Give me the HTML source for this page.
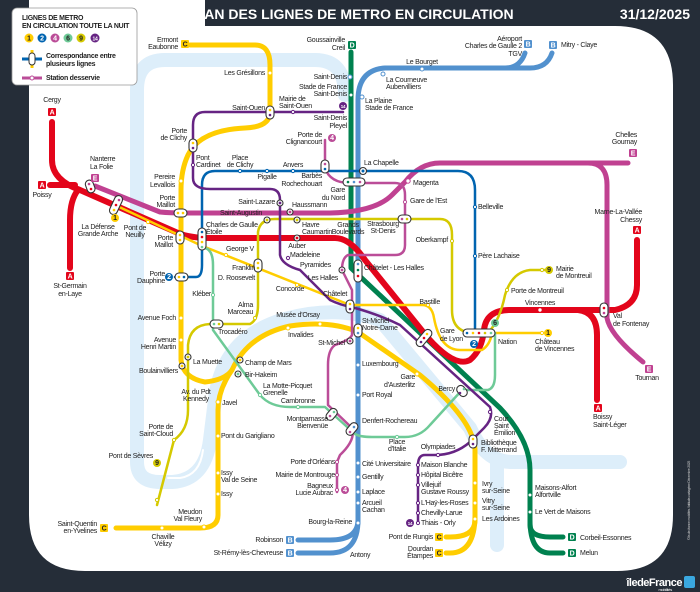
<!DOCTYPE html>
<html><head><meta charset="utf-8"><style>
html,body{margin:0;padding:0;background:#252d38;}
svg{display:block;font-family:"Liberation Sans",sans-serif;}
text{font-size:7px;fill:#222;letter-spacing:-0.25px;}
.e{text-anchor:end}.m{text-anchor:middle}
.th{fill:none;stroke-linecap:round;stroke-linejoin:round}
</style></head><body>
<svg width="700" height="592" viewBox="0 0 700 592" xmlns="http://www.w3.org/2000/svg">
<rect width="700" height="592" fill="#252d38"/>
<path d="M29,0 H205 V26 H615 Q673,26 673,85 V515 Q673,571 617,571 H85 Q29,571 29,515 Z" fill="#fff"/>
<text x="350" y="19" class="m" style="font-size:14px;font-weight:bold;fill:#fff;letter-spacing:0">PLAN DES LIGNES DE METRO EN CIRCULATION</text>
<text x="690" y="19" class="e" style="font-size:14px;font-weight:bold;fill:#fff;letter-spacing:0">31/12/2025</text>

<!-- Seine -->
<g class="th" stroke="#ddeefa" stroke-width="14">
<path d="M345,95 Q345,60 315,60 H165 Q137,60 137,90 V462 Q137,482 160,482 H172 Q205,480 210,440 L216,392 Q226,336 285,319 Q335,305 380,320 L470,428 Q485,462 512,462 H620"/>
<path d="M497,462 V545"/>
</g>
<path class="th" d="M168,478 H180 Q200,475 203,450" stroke="#fff" stroke-width="2"/>

<!-- Legend -->
<rect x="12" y="8" width="125" height="77" rx="5" fill="#fff" stroke="#999" stroke-width="0.8"/>
<text x="22" y="20" style="font-size:7px;font-weight:bold">LIGNES DE METRO</text>
<text x="22" y="28" style="font-size:7px;font-weight:bold">EN CIRCULATION TOUTE LA NUIT</text>
<g style="font-size:6px;font-weight:bold" class="m">
<circle cx="29" cy="38" r="4.5" fill="#ffcd00"/><text x="29" y="40.5">1</text>
<circle cx="42" cy="38" r="4.5" fill="#0064b0"/><text x="42" y="40.5" style="fill:#fff">2</text>
<circle cx="55" cy="38" r="4.5" fill="#bb4d98"/><text x="55" y="40.5" style="fill:#fff">4</text>
<circle cx="68" cy="38" r="4.5" fill="#6eca97"/><text x="68" y="40.5">6</text>
<circle cx="81" cy="38" r="4.5" fill="#d5c900"/><text x="81" y="40.5">9</text>
<circle cx="95" cy="38" r="4.5" fill="#662483"/><text x="95" y="40.5" style="fill:#fff;font-size:5px">14</text>
</g>
<path d="M22,59 H42" stroke="#0064b0" stroke-width="3"/><path d="M32,50 V68" stroke="#ffcd00" stroke-width="3"/>
<rect x="29" y="53" width="6" height="12" rx="3" fill="#fff" stroke="#333"/>
<text x="46" y="58" style="font-size:7px;font-weight:bold">Correspondance entre</text>
<text x="46" y="66" style="font-size:7px;font-weight:bold">plusieurs lignes</text>
<path d="M22,78 H42" stroke="#bb4d98" stroke-width="3"/><circle cx="32" cy="78" r="2" fill="#fff" stroke="#bb4d98"/>
<text x="46" y="80" style="font-size:7px;font-weight:bold">Station desservie</text>

<!-- RER B -->
<g class="th" stroke="#5291ce" stroke-width="5">
<path d="M525,53 Q520,68 505,68 H385 Q358,70 358,100 V520 Q358,540 330,540 H298"/>
<path d="M552,53 Q547,68 530,68 H500"/>
<path d="M358,520 Q358,553 330,553 H298"/>
</g>
<!-- RER D -->
<g class="th" stroke="#00814f" stroke-width="5">
<path d="M351,52 V268 L500,408 Q530,440 530,470 V525 Q530,537 550,537 H563"/>
<path d="M530,520 Q530,553 550,553 H563"/>
</g>
<!-- RER C -->
<g class="th" stroke="#ffcd00" stroke-width="5">
<path d="M190,45 H255 Q270,45 270,65 V112 Q270,127 245,128 Q200,130 188,155 Q181,170 181,190 V360 Q183,378 205,382 Q225,380 232,370 Q248,335 290,326 Q330,320 358,332 L420,375 Q474,420 475,450 V520 Q475,537 450,537 H446"/>
<path d="M475,515 Q475,553 450,553 H446"/>
<path d="M232,370 Q218,390 218,410 V515 Q218,528 200,528 H116"/>
</g>
<!-- RER A -->
<g class="th" stroke="#e3051b" stroke-width="6">
<path d="M52,122 V160 Q52,180 80,190 L178,233 Q190,238 210,238 H335 Q350,238 365,260 L428,338 Q455,368 470,360 Q482,350 484,330 Q486,310 510,310 H615 Q637,305 637,285 V240"/>
<path d="M50,185 H75"/>
<path d="M78,190 Q70,200 70,220 V268"/>
<path d="M578,310 Q597,312 597,335 V400"/>
</g>
<!-- RER E -->
<g class="th" stroke="#c04191" stroke-width="5">
<path d="M95,186 L160,212 Q170,213 185,213 H330 Q375,212 392,195 L405,182 Q420,163 440,163 H628"/>
<path d="M588,163 Q607,163 607,185 V318 Q610,335 643,362"/>
</g>

<!-- Metro 1 -->
<path class="th" stroke="#ffcd00" stroke-width="2.5" d="M115,205 L200,245 L350,305 H422 Q432,305 434,318 Q440,350 460,350 H482 Q490,345 492,333 H542"/>
<!-- Metro 2 -->
<path class="th" stroke="#0064b0" stroke-width="2.5" d="M175,277 H196 Q202,277 202,265 V185 Q202,171 215,171 H458 Q475,171 475,190 V330"/>
<!-- Metro 4 -->
<path class="th" stroke="#bb4d98" stroke-width="2.5" d="M325,140 V168 Q330,183 350,183 H395 Q405,183 405,195 V245 Q405,255 395,255 H348 Q342,258 342,270 L352,290 V335 Q350,340 335,345 Q328,350 328,365 V405 L352,428 Q356,440 340,455 L337,462 V492"/>
<!-- Metro 6 -->
<path class="th" stroke="#6eca97" stroke-width="2.5" d="M205,248 Q213,250 213,265 V330 L260,395 Q270,407 290,407 H325 L355,434 Q360,437 372,437 H405 Q420,437 430,425 L462,390 H488 Q495,388 495,375 V333"/>
<!-- Metro 9 -->
<path class="th" stroke="#d5c900" stroke-width="2.5" d="M157,505 L174,440 Q188,430 188,410 V345 Q190,325 210,324 H250 Q258,320 258,305 V232 Q260,219 275,219 H440 Q452,219 452,235 V310 Q452,333 475,333 H488 Q500,320 505,295 Q512,272 530,270 H545"/>
<!-- Metro 14 -->
<path class="th" stroke="#662483" stroke-width="2.5" d="M343,112 H205 Q193,112 193,125 V178 Q193,189 210,189 H270 Q280,189 280,200 V255 Q282,265 300,270 L330,300 Q340,305 355,308 Q380,315 400,325 L490,407 Q494,418 484,428 L470,442 Q455,455 435,455 H425 Q418,455 418,465 V523"/>

<!-- stations (small) -->
<g fill="#fff" stroke-width="1">
<g stroke="#ffcd00"><circle cx="270" cy="73" r="2"/><circle cx="181" cy="181" r="2"/><circle cx="181" cy="318" r="2"/><circle cx="181" cy="340" r="2"/><circle cx="288" cy="328" r="2"/><circle cx="320" cy="324" r="2"/><circle cx="417" cy="374" r="2"/><circle cx="475" cy="483" r="2"/><circle cx="475" cy="503" r="2"/><circle cx="475" cy="519" r="2"/><circle cx="218" cy="402" r="2"/><circle cx="218" cy="436" r="2"/><circle cx="218" cy="473" r="2"/><circle cx="218" cy="494" r="2"/><circle cx="204" cy="527" r="2"/><circle cx="162" cy="528" r="2"/>
<circle cx="148" cy="222" r="1.6"/><circle cx="226" cy="255" r="1.6"/><circle cx="297" cy="285" r="1.6"/><circle cx="428" cy="305" r="1.6"/><circle cx="542" cy="333" r="1.6"/></g>
<g stroke="#5291ce"><circle cx="350" cy="77" r="2"/><circle cx="422" cy="69" r="2"/><circle cx="383" cy="74" r="2"/><circle cx="362" cy="97" r="2"/><circle cx="358" cy="365" r="2"/><circle cx="358" cy="395" r="2"/><circle cx="358" cy="463" r="2"/><circle cx="358" cy="477" r="2"/><circle cx="358" cy="492" r="2"/><circle cx="358" cy="503" r="2"/><circle cx="358" cy="523" r="2"/></g>
<g stroke="#00814f"><circle cx="351" cy="95" r="2"/><circle cx="530" cy="495" r="2"/><circle cx="530" cy="512" r="2"/></g>
<g stroke="#e3051b"><circle cx="540" cy="310" r="2.2"/></g>
<g stroke="#c04191"><circle cx="408" cy="181" r="2.2"/></g>
<g stroke="#0064b0"><circle cx="240" cy="171" r="1.6"/><circle cx="267" cy="171" r="1.6"/><circle cx="293" cy="171" r="1.6"/><circle cx="475" cy="207" r="1.6"/><circle cx="475" cy="256" r="1.6"/></g>
<g stroke="#bb4d98"><circle cx="405" cy="202" r="1.6"/><circle cx="337" cy="462" r="1.6"/><circle cx="337" cy="475" r="1.6"/><circle cx="337" cy="490" r="1.6"/></g>
<g stroke="#6eca97"><circle cx="213" cy="295" r="1.6"/><circle cx="260" cy="395" r="1.6"/><circle cx="298" cy="407" r="1.6"/><circle cx="397" cy="437" r="1.6"/></g>
<g stroke="#d5c900"><circle cx="174" cy="440" r="1.6"/><circle cx="157" cy="500" r="1.6"/><circle cx="255" cy="318" r="1.6"/><circle cx="452" cy="241" r="1.6"/><circle cx="507" cy="290" r="1.6"/><circle cx="542" cy="270" r="1.6"/></g>
<g stroke="#662483"><circle cx="293" cy="112" r="1.6"/><circle cx="193" cy="165" r="1.6"/><circle cx="288" cy="258" r="1.6"/><circle cx="438" cy="455" r="1.6"/><circle cx="418" cy="465" r="1.6"/><circle cx="418" cy="475" r="1.6"/><circle cx="418" cy="485" r="1.6"/><circle cx="418" cy="503" r="1.6"/><circle cx="418" cy="513" r="1.6"/><circle cx="418" cy="523" r="1.6"/><circle cx="490" cy="412" r="1.6"/></g>
</g>

<!-- interchanges -->
<g fill="#fff" stroke="#333" stroke-width="1.1">
<rect x="266" y="106" width="8" height="13" rx="4"/>
<rect x="189" y="139" width="8" height="13" rx="4"/>
<rect x="321" y="160" width="8" height="13" rx="4"/>
<rect x="343" y="178" width="22" height="8" rx="4"/>
<circle cx="363" cy="171" r="3.5"/>
<rect x="398" y="215" width="13" height="8" rx="4"/>
<rect x="174" y="209" width="13" height="8" rx="4"/>
<rect x="176" y="231" width="8" height="13" rx="4"/>
<rect x="198" y="228" width="8" height="22" rx="4"/>
<rect x="254" y="259" width="8" height="13" rx="4"/>
<rect x="175" y="273" width="13" height="8" rx="4"/>
<rect x="354" y="260" width="8" height="22" rx="4"/>
<rect x="346" y="300" width="8" height="13" rx="4"/>
<rect x="354" y="324" width="8" height="13" rx="4"/>
<rect x="210" y="320" width="13" height="8" rx="4"/>
<rect x="420" y="328" width="8" height="20" rx="4" transform="rotate(40 424 338)"/>
<rect x="463" y="329" width="32" height="8" rx="4"/>
<rect x="600" y="303" width="8" height="14" rx="4"/>
<rect x="458" y="385" width="8" height="12" rx="4" transform="rotate(-40 462 391)"/>
<rect x="469" y="435" width="8" height="13" rx="4"/>
<rect x="328" y="408" width="8" height="13" rx="4" transform="rotate(40 332 414)"/>
<rect x="348" y="422" width="8" height="14" rx="4" transform="rotate(40 352 429)"/>
<rect x="86" y="180" width="8" height="13" rx="4" transform="rotate(-20 90 186)"/>
<rect x="112" y="195" width="8" height="20" rx="4" transform="rotate(25 116 205)"/>
<circle cx="280" cy="203" r="3"/><circle cx="290" cy="212" r="3"/><circle cx="267" cy="220" r="3"/><circle cx="297" cy="220" r="3"/><circle cx="297" cy="238" r="3"/><circle cx="342" cy="270" r="3"/><circle cx="350" cy="341" r="3"/><circle cx="188" cy="357" r="3"/><circle cx="182" cy="366" r="3"/><circle cx="240" cy="360" r="3"/><circle cx="238" cy="374" r="3"/>
</g>
<g stroke="none">
<circle cx="270" cy="110" r="1.3" fill="#ffcd00"/><circle cx="270" cy="115" r="1.3" fill="#662483"/>
<circle cx="193" cy="143" r="1.3" fill="#ffcd00"/><circle cx="193" cy="148" r="1.3" fill="#662483"/>
<circle cx="325" cy="164" r="1.3" fill="#bb4d98"/><circle cx="325" cy="169" r="1.3" fill="#0064b0"/>
<circle cx="348" cy="182" r="1.3" fill="#00814f"/><circle cx="354" cy="182" r="1.3" fill="#5291ce"/><circle cx="360" cy="182" r="1.3" fill="#bb4d98"/>
<circle cx="363" cy="171" r="1.5" fill="#0064b0"/>
<circle cx="402" cy="219" r="1.3" fill="#bb4d98"/><circle cx="407" cy="219" r="1.3" fill="#d5c900"/>
<circle cx="178" cy="213" r="1.3" fill="#ffcd00"/><circle cx="183" cy="213" r="1.3" fill="#ffcd00"/>
<circle cx="180" cy="235" r="1.3" fill="#ffcd00"/><circle cx="180" cy="240" r="1.3" fill="#ffcd00"/>
<circle cx="202" cy="232" r="1.3" fill="#0064b0"/><circle cx="202" cy="237" r="1.3" fill="#e3051b"/><circle cx="202" cy="242" r="1.3" fill="#ffcd00"/><circle cx="202" cy="247" r="1.3" fill="#6eca97"/>
<circle cx="258" cy="263" r="1.3" fill="#ffcd00"/><circle cx="258" cy="268" r="1.3" fill="#d5c900"/>
<circle cx="179" cy="277" r="1.3" fill="#ffcd00"/><circle cx="184" cy="277" r="1.3" fill="#0064b0"/>
<circle cx="358" cy="264" r="1.3" fill="#5291ce"/><circle cx="358" cy="270" r="1.3" fill="#00814f"/><circle cx="358" cy="276" r="1.3" fill="#e3051b"/>
<circle cx="350" cy="304" r="1.3" fill="#ffcd00"/><circle cx="350" cy="309" r="1.3" fill="#662483"/>
<circle cx="358" cy="328" r="1.3" fill="#ffcd00"/><circle cx="358" cy="333" r="1.3" fill="#5291ce"/>
<circle cx="214" cy="324" r="1.3" fill="#6eca97"/><circle cx="219" cy="324" r="1.3" fill="#d5c900"/>
<circle cx="427" cy="334" r="1.3" fill="#ffcd00"/><circle cx="424" cy="338" r="1.3" fill="#e3051b"/><circle cx="421" cy="342" r="1.3" fill="#662483"/>
<circle cx="467" cy="333" r="1.3" fill="#0064b0"/><circle cx="473" cy="333" r="1.3" fill="#ffcd00"/><circle cx="479" cy="333" r="1.3" fill="#e3051b"/><circle cx="485" cy="333" r="1.3" fill="#d5c900"/><circle cx="491" cy="333" r="1.3" fill="#6eca97"/>
<circle cx="604" cy="308" r="1.3" fill="#e3051b"/><circle cx="604" cy="313" r="1.3" fill="#c04191"/>
<circle cx="460" cy="393" r="1.3" fill="#662483"/><circle cx="464" cy="389" r="1.3" fill="#6eca97"/>
<circle cx="473" cy="439" r="1.3" fill="#ffcd00"/><circle cx="473" cy="444" r="1.3" fill="#662483"/>
<circle cx="330" cy="416" r="1.3" fill="#bb4d98"/><circle cx="334" cy="412" r="1.3" fill="#6eca97"/>
<circle cx="350" cy="432" r="1.3" fill="#bb4d98"/><circle cx="354" cy="427" r="1.3" fill="#5291ce"/>
<circle cx="89" cy="184" r="1.3" fill="#c04191"/><circle cx="91" cy="189" r="1.3" fill="#e3051b"/>
<circle cx="119" cy="200" r="1.3" fill="#c04191"/><circle cx="116" cy="205" r="1.3" fill="#e3051b"/><circle cx="114" cy="210" r="1.3" fill="#ffcd00"/>
<circle cx="280" cy="203" r="1.4" fill="#662483"/><circle cx="290" cy="212" r="1.4" fill="#c04191"/><circle cx="267" cy="220" r="1.4" fill="#d5c900"/><circle cx="297" cy="220" r="1.4" fill="#d5c900"/><circle cx="297" cy="238" r="1.4" fill="#e3051b"/><circle cx="342" cy="270" r="1.4" fill="#bb4d98"/><circle cx="350" cy="341" r="1.4" fill="#bb4d98"/><circle cx="188" cy="357" r="1.4" fill="#d5c900"/><circle cx="182" cy="366" r="1.4" fill="#ffcd00"/><circle cx="240" cy="360" r="1.4" fill="#ffcd00"/><circle cx="238" cy="374" r="1.4" fill="#6eca97"/>
</g>

<!-- terminus badges -->
<g style="font-size:6px;font-weight:bold" class="m">
<rect x="181" y="40" width="8" height="8" rx="1" fill="#ffcd00"/><text x="185" y="46.5">C</text>
<rect x="348" y="41" width="8" height="8" rx="1" fill="#00814f"/><text x="352" y="47.5" style="fill:#fff">D</text>
<rect x="524" y="40" width="8" height="8" rx="1" fill="#5291ce"/><text x="528" y="46.5" style="fill:#fff">B</text>
<rect x="549" y="41" width="8" height="8" rx="1" fill="#5291ce"/><text x="553" y="47.5" style="fill:#fff">B</text>
<rect x="629" y="149" width="8" height="8" rx="1" fill="#c04191"/><text x="633" y="155.5" style="fill:#fff">E</text>
<rect x="633" y="226" width="8" height="8" rx="1" fill="#e3051b"/><text x="637" y="232.5" style="fill:#fff">A</text>
<rect x="48" y="108" width="8" height="8" rx="1" fill="#e3051b"/><text x="52" y="114.5" style="fill:#fff">A</text>
<rect x="38" y="181" width="8" height="8" rx="1" fill="#e3051b"/><text x="42" y="187.5" style="fill:#fff">A</text>
<rect x="66" y="272" width="8" height="8" rx="1" fill="#e3051b"/><text x="70" y="278.5" style="fill:#fff">A</text>
<rect x="91" y="174" width="8" height="8" rx="1" fill="#c04191"/><text x="95" y="180.5" style="fill:#fff">E</text>
<rect x="645" y="365" width="8" height="8" rx="1" fill="#c04191"/><text x="649" y="371.5" style="fill:#fff">E</text>
<rect x="594" y="404" width="8" height="8" rx="1" fill="#e3051b"/><text x="598" y="410.5" style="fill:#fff">A</text>
<rect x="100" y="524" width="8" height="8" rx="1" fill="#ffcd00"/><text x="104" y="530.5">C</text>
<rect x="286" y="536" width="8" height="8" rx="1" fill="#5291ce"/><text x="290" y="542.5" style="fill:#fff">B</text>
<rect x="286" y="549" width="8" height="8" rx="1" fill="#5291ce"/><text x="290" y="555.5" style="fill:#fff">B</text>
<rect x="435" y="533" width="8" height="8" rx="1" fill="#ffcd00"/><text x="439" y="539.5">C</text>
<rect x="435" y="549" width="8" height="8" rx="1" fill="#ffcd00"/><text x="439" y="555.5">C</text>
<rect x="568" y="533" width="8" height="8" rx="1" fill="#00814f"/><text x="572" y="539.5" style="fill:#fff">D</text>
<rect x="568" y="549" width="8" height="8" rx="1" fill="#00814f"/><text x="572" y="555.5" style="fill:#fff">D</text>
<circle cx="343" cy="106" r="4" fill="#662483"/><text x="343" y="108" style="fill:#fff;font-size:4.5px">14</text>
<circle cx="332" cy="138" r="4" fill="#bb4d98"/><text x="332" y="140" style="fill:#fff">4</text>
<circle cx="115" cy="218" r="4" fill="#ffcd00"/><text x="115" y="220">1</text>
<circle cx="169" cy="277" r="4" fill="#0064b0"/><text x="169" y="279" style="fill:#fff">2</text>
<circle cx="549" cy="270" r="4" fill="#d5c900"/><text x="549" y="272">9</text>
<circle cx="495" cy="323" r="4" fill="#6eca97"/><text x="495" y="325">6</text>
<circle cx="474" cy="344" r="4" fill="#0064b0"/><text x="474" y="346" style="fill:#fff">2</text>
<circle cx="548" cy="333" r="4" fill="#ffcd00"/><text x="548" y="335">1</text>
<circle cx="157" cy="463" r="4" fill="#d5c900"/><text x="157" y="465">9</text>
<circle cx="345" cy="490" r="4" fill="#bb4d98"/><text x="345" y="492" style="fill:#fff">4</text>
<circle cx="410" cy="523" r="4" fill="#662483"/><text x="410" y="525" style="fill:#fff;font-size:4.5px">14</text>
</g>

<!-- labels -->
<text x="178" y="42" class="e">Ermont</text><text x="178" y="49" class="e">Eaubonne</text>
<text x="265" y="75" class="e">Les Grésillons</text>
<text x="265" y="110" class="e">Saint-Ouen</text>
<text x="279" y="101">Mairie de</text><text x="279" y="108">Saint-Ouen</text>
<text x="345" y="42" class="e">Goussainville</text><text x="345" y="50" class="e">Creil</text>
<text x="347" y="79" class="e">Saint-Denis</text><text x="347" y="89" class="e">Stade de France</text><text x="347" y="96" class="e">Saint-Denis</text>
<text x="347" y="120" class="e">Saint-Denis</text><text x="347" y="128" class="e">Pleyel</text>
<text x="322" y="137" class="e">Porte de</text><text x="322" y="144" class="e">Clignancourt</text>
<text x="187" y="133" class="e">Porte</text><text x="187" y="140" class="e">de Clichy</text>
<text x="196" y="160">Pont</text><text x="196" y="167">Cardinet</text>
<text x="240" y="160" class="m">Place</text><text x="240" y="167" class="m">de Clichy</text>
<text x="267" y="179" class="m">Pigalle</text><text x="293" y="167" class="m">Anvers</text>
<text x="322" y="178" class="e">Barbès</text><text x="322" y="186" class="e">Rochechouart</text>
<text x="345" y="192" class="e">Gare</text><text x="345" y="200" class="e">du Nord</text>
<text x="175" y="179" class="e">Pereire</text><text x="175" y="187" class="e">Levallois</text>
<text x="175" y="200" class="e">Porte</text><text x="175" y="207" class="e">Maillot</text>
<text x="173" y="240" class="e">Porte</text><text x="173" y="247" class="e">Maillot</text>
<text x="90" y="161">Nanterre</text><text x="90" y="169">La Folie</text>
<text x="52" y="102" class="m">Cergy</text><text x="42" y="197" class="m">Poissy</text>
<text x="70" y="288" class="m">St-Germain</text><text x="70" y="296" class="m">en-Laye</text>
<text x="98" y="229" class="m">La Défense</text><text x="98" y="236" class="m">Grande Arche</text>
<text x="135" y="230" class="m">Pont de</text><text x="135" y="237" class="m">Neuilly</text>
<text x="275" y="204" class="e">Saint-Lazare</text><text x="292" y="207">Haussmann</text>
<text x="220" y="215">Saint-Augustin</text>
<text x="206" y="227">Charles de Gaulle</text><text x="206" y="234">Étoile</text>
<text x="302" y="227">Havre</text><text x="302" y="234">Caumartin</text>
<text x="297" y="248" class="m">Auber</text><text x="240" y="251" class="m">George V</text>
<text x="290" y="257">Madeleine</text><text x="300" y="267">Pyramides</text><text x="338" y="280" class="e">Les Halles</text>
<text x="255" y="270" class="e">Franklin</text><text x="255" y="280" class="e">D. Roosevelt</text>
<text x="165" y="276" class="e">Porte</text><text x="165" y="283" class="e">Dauphine</text>
<text x="290" y="291" class="m">Concorde</text><text x="323" y="296">Châtelet</text>
<text x="211" y="296" class="e">Kléber</text>
<text x="364" y="165">La Chapelle</text><text x="413" y="185">Magenta</text><text x="410" y="203">Gare de l'Est</text>
<text x="478" y="209">Belleville</text><text x="478" y="258">Père Lachaise</text>
<text x="383" y="226" class="m">Strasbourg</text><text x="383" y="233" class="m">St-Denis</text>
<text x="348" y="227" class="m">Grands</text><text x="348" y="234" class="m">Boulevards</text>
<text x="448" y="242" class="e">Oberkampf</text><text x="364" y="270">Châtelet - Les Halles</text>
<text x="522" y="41" class="e">Aéroport</text><text x="522" y="48" class="e">Charles de Gaulle 2</text><text x="522" y="56" class="e">TGV</text>
<text x="561" y="47">Mitry - Claye</text><text x="422" y="64" class="m">Le Bourget</text>
<text x="386" y="82">La Courneuve</text><text x="386" y="89">Aubervilliers</text>
<text x="365" y="103">La Plaine</text><text x="365" y="110">Stade de France</text>
<text x="637" y="137" class="e">Chelles</text><text x="637" y="144" class="e">Gournay</text>
<text x="642" y="214" class="e">Marne-La-Vallée</text><text x="642" y="222" class="e">Chessy</text>
<text x="556" y="271">Mairie</text><text x="556" y="278">de Montreuil</text><text x="511" y="293">Porte de Montreuil</text>
<text x="176" y="320" class="e">Avenue Foch</text>
<text x="253" y="307" class="e">Alma</text><text x="253" y="314" class="e">Marceau</text>
<text x="298" y="317" class="m">Musée d'Orsay</text><text x="218" y="334">Trocadéro</text>
<text x="288" y="337">Invalides</text><text x="345" y="345" class="e">St-Michel</text>
<text x="176" y="342" class="e">Avenue</text><text x="176" y="349" class="e">Henri Martin</text>
<text x="193" y="364">La Muette</text><text x="178" y="373" class="e">Boulainvilliers</text>
<text x="245" y="365">Champ de Mars</text><text x="245" y="377">Bir-Hakeim</text>
<text x="196" y="394" class="m">Av. du Pdt</text><text x="196" y="401" class="m">Kennedy</text>
<text x="263" y="388">La Motte-Picquet</text><text x="263" y="395">Grenelle</text>
<text x="222" y="405">Javel</text><text x="298" y="403" class="m">Cambronne</text>
<text x="328" y="421" class="e">Montparnasse</text><text x="328" y="428" class="e">Bienvenüe</text>
<text x="173" y="429" class="e">Porte de</text><text x="173" y="436" class="e">Saint-Cloud</text>
<text x="221" y="438">Pont du Garigliano</text><text x="153" y="458" class="e">Pont de Sèvres</text>
<text x="335" y="464" class="e">Porte d'Orléans</text><text x="335" y="477" class="e">Mairie de Montrouge</text>
<text x="333" y="488" class="e">Bagneux</text><text x="333" y="495" class="e">Lucie Aubrac</text>
<text x="221" y="475">Issy</text><text x="221" y="482">Val de Seine</text><text x="221" y="496">Issy</text>
<text x="202" y="514" class="e">Meudon</text><text x="202" y="521" class="e">Val Fleury</text>
<text x="97" y="526" class="e">Saint-Quentin</text><text x="97" y="533" class="e">en-Yvelines</text>
<text x="163" y="539" class="m">Chaville</text><text x="163" y="546" class="m">Vélizy</text>
<text x="352" y="524" class="e">Bourg-la-Reine</text>
<text x="283" y="542" class="e">Robinson</text><text x="283" y="555" class="e">St-Rémy-lès-Chevreuse</text>
<text x="440" y="304" class="e">Bastille</text><text x="540" y="305" class="m">Vincennes</text>
<text x="613" y="318">Val</text><text x="613" y="326">de Fontenay</text>
<text x="362" y="323">St-Michel</text><text x="362" y="330">Notre-Dame</text>
<text x="440" y="333">Gare</text><text x="440" y="341">de Lyon</text>
<text x="498" y="344">Nation</text><text x="535" y="344">Château</text><text x="535" y="351">de Vincennes</text>
<text x="362" y="366">Luxembourg</text>
<text x="415" y="379" class="e">Gare</text><text x="415" y="387" class="e">d'Austerlitz</text>
<text x="455" y="391" class="e">Bercy</text><text x="362" y="397">Port Royal</text>
<text x="647" y="380" class="m">Tournan</text>
<text x="593" y="419">Boissy</text><text x="593" y="427">Saint-Léger</text>
<text x="362" y="423">Denfert-Rochereau</text>
<text x="494" y="421">Cour</text><text x="494" y="428">Saint</text><text x="494" y="435">Émilion</text>
<text x="397" y="444" class="m">Place</text><text x="397" y="451" class="m">d'Italie</text>
<text x="438" y="449" class="m">Olympiades</text>
<text x="481" y="445">Bibliothèque</text><text x="481" y="452">F. Mitterrand</text>
<text x="362" y="466">Cité Universitaire</text><text x="421" y="467">Maison Blanche</text>
<text x="362" y="479">Gentilly</text><text x="421" y="477">Hôpital Bicêtre</text>
<text x="421" y="487">Villejuif</text><text x="421" y="494">Gustave Roussy</text>
<text x="362" y="494">Laplace</text><text x="362" y="505">Arcueil</text><text x="362" y="512">Cachan</text>
<text x="421" y="505">L'Haÿ-les-Roses</text><text x="421" y="515">Chevilly-Larue</text><text x="421" y="525">Thiais - Orly</text>
<text x="482" y="486">Ivry</text><text x="482" y="493">sur-Seine</text>
<text x="482" y="503">Vitry</text><text x="482" y="510">sur-Seine</text><text x="482" y="521">Les Ardoines</text>
<text x="535" y="490">Maisons-Alfort</text><text x="535" y="497">Alfortville</text><text x="535" y="514">Le Vert de Maisons</text>
<text x="433" y="539" class="e">Pont de Rungis</text>
<text x="433" y="551" class="e">Dourdan</text><text x="433" y="558" class="e">Étampes</text>
<text x="350" y="557">Antony</text>
<text x="580" y="540">Corbeil-Essonnes</text><text x="580" y="555">Melun</text>

<text x="682" y="586" class="e" style="fill:#fff;font-size:11px;font-weight:bold;letter-spacing:-0.5px">îledeFrance</text>
<text x="672" y="591" class="e" style="fill:#fff;font-size:4px">mobilités</text>
<rect x="684" y="576" width="11" height="12" rx="2" fill="#3aa8e0"/>
<text x="690" y="540" transform="rotate(-90 690 540)" style="fill:#ccc;font-size:3.5px">©île-de-france mobilités / latitude-cartagène Décembre 2025</text>
</svg>
</body></html>
